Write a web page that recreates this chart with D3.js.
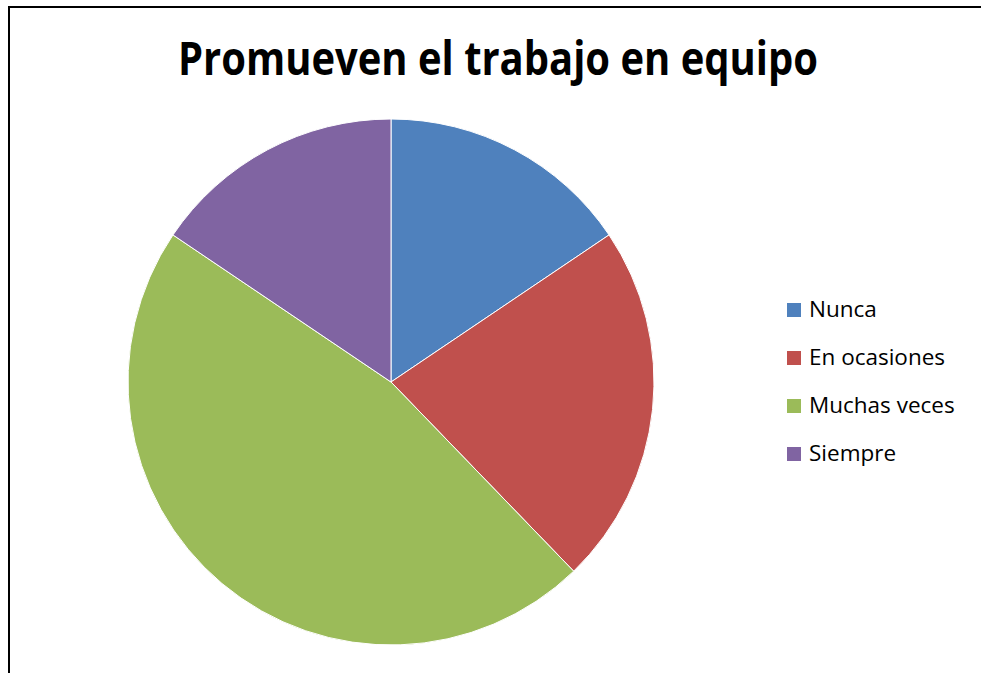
<!DOCTYPE html>
<html>
<head>
<meta charset="utf-8">
<script src="https://cdn.jsdelivr.net/npm/d3@7"></script>
<style>
html,body{margin:0;padding:0;background:#fff;overflow:hidden;}
svg{display:block;}
</style>
</head>
<body>
<svg id="chart" width="982" height="673"></svg>
<script>
const title = "Promueven el trabajo en equipo";
const categories = ["Nunca", "En ocasiones", "Muchas veces", "Siempre"];
const values = [7, 10, 21, 7];
const colors = ["#4F81BD", "#C0504D", "#9BBB59", "#8064A2"];

const svg = d3.select("#chart");
const W = 982, H = 673;

// chart area border: only top and left edges fall inside the view
svg.append("line").attr("x1", 9).attr("y1", 6).attr("x2", 9).attr("y2", H)
  .attr("stroke", "#000").attr("stroke-width", 2);
svg.append("line").attr("x1", 8).attr("y1", 7).attr("x2", W - 1).attr("y2", 7)
  .attr("stroke", "#000").attr("stroke-width", 2);

// title
svg.append("text")
  .attr("x", 498).attr("y", 75)
  .attr("text-anchor", "middle")
  .attr("font-family", "'Open Sans', sans-serif")
  .attr("font-weight", "bold")
  .attr("font-size", 46)
  .attr("fill", "#000")
  .attr("textLength", 640).attr("lengthAdjust", "spacingAndGlyphs")
  .text(title);

// pie
const cx = 391, cy = 382, R = 263;
const pie = d3.pie().sort(null).value(d => d)(values);
const arc = d3.arc().innerRadius(0).outerRadius(R);
const color = d3.scaleOrdinal().domain(categories).range(colors);

svg.append("g")
  .attr("transform", `translate(${cx},${cy})`)
  .selectAll("path")
  .data(pie)
  .join("path")
  .attr("d", arc)
  .attr("fill", (d, i) => color(categories[i]))
  .attr("stroke", "#fff")
  .attr("stroke-width", 1)
  .attr("stroke-linejoin", "round");

// legend
const ly = d3.scalePoint().domain(categories).range([317, 461]);
const rows = svg.append("g").selectAll("g").data(categories).join("g")
  .attr("transform", d => `translate(787,${ly(d)})`);
rows.append("rect")
  .attr("x", 0).attr("y", -14)
  .attr("width", 14).attr("height", 14)
  .attr("fill", d => color(d));
rows.append("text")
  .attr("x", 22).attr("y", 0)
  .attr("font-family", "'Open Sans', sans-serif")
  .attr("font-size", 22.5)
  .attr("fill", "#000")
  .text(d => d);
</script>
</body>
</html>
